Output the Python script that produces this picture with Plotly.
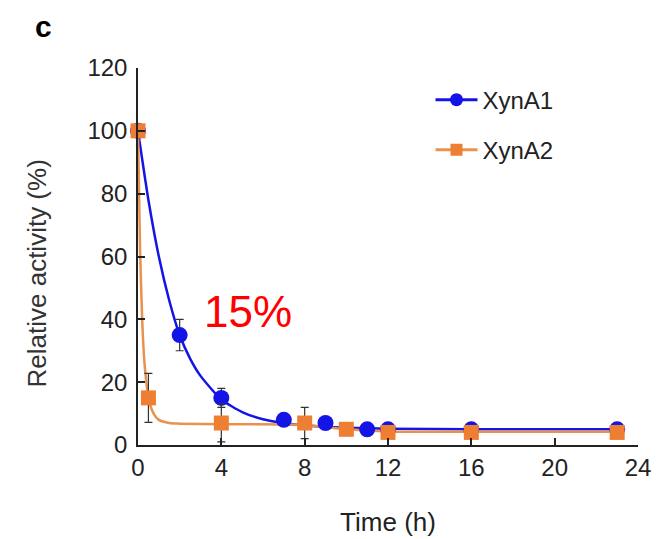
import plotly.graph_objects as go

# Measured data points
t_a1 = [0, 2, 4, 7, 9, 11, 12, 16, 23]
y_a1 = [100, 35, 15, 8, 7, 5, 5, 5, 5]
e_a1 = [0, 5, 3, 1.5, 1, 0.5, 0.5, 0.5, 0.5]

t_a2 = [0, 0.5, 4, 8, 10, 12, 16, 23]
y_a2 = [100, 15, 7, 7, 5, 4, 4, 4]
e_a2 = [0, 7.8, 6, 5, 1, 0.5, 0.5, 0.5]

# Fitted curves
fit_t_a1 = [0, 0.5, 1, 1.5, 2, 2.5, 3, 4, 5, 6, 7, 8, 10, 12, 16, 23]
fit_y_a1 = [100, 78, 60, 46, 35, 27.5, 22, 14.5, 10.5, 8.2, 7, 6.2, 5.5, 5.2, 5, 5]

fit_t_a2 = [0, 0.1, 0.2, 0.3, 0.4, 0.5, 0.75, 1, 1.5, 2, 4, 8, 10, 12, 16, 23]
fit_y_a2 = [100, 62, 40, 27, 20, 15, 10, 8, 7, 6.8, 6.6, 6.4, 5, 4.3, 4.2, 4.2]

BLUE = "#1414e6"
ORANGE = "#ee7e32"
ORANGE_LINE = "#e9924e"
FONT = "Liberation Sans, Arial, sans-serif"

fig = go.Figure()

fig.add_trace(go.Scatter(x=fit_t_a1, y=fit_y_a1, mode="lines", line=dict(color=BLUE, width=2.5, shape="spline", smoothing=0.6),
                         showlegend=False, hoverinfo="skip", cliponaxis=False))
fig.add_trace(go.Scatter(x=fit_t_a2, y=fit_y_a2, mode="lines", line=dict(color=ORANGE_LINE, width=2.5, shape="spline", smoothing=0.6),
                         showlegend=False, hoverinfo="skip", cliponaxis=False))

fig.add_trace(go.Scatter(x=t_a1, y=y_a1, mode="markers", showlegend=False, cliponaxis=False,
                         marker=dict(symbol="circle", size=16, color=BLUE),
                         error_y=dict(type="data", array=e_a1, color="#333333", thickness=1.2, width=4)))
fig.add_trace(go.Scatter(x=t_a2, y=y_a2, mode="markers", showlegend=False, cliponaxis=False,
                         marker=dict(symbol="square", size=15, color=ORANGE),
                         error_y=dict(type="data", array=e_a2, color="#333333", thickness=1.2, width=4)))

# Legend entries
fig.add_trace(go.Scatter(x=[None], y=[None], mode="lines+markers", name="XynA1",
                         line=dict(color=BLUE, width=3), marker=dict(symbol="circle", size=13, color=BLUE),
                         legend="legend"))
fig.add_trace(go.Scatter(x=[None], y=[None], mode="lines+markers", name="XynA2",
                         line=dict(color=ORANGE_LINE, width=3), marker=dict(symbol="square", size=12, color=ORANGE),
                         legend="legend2"))

axis_font = dict(family=FONT, size=24, color="#222222")
leg_font = dict(family=FONT, size=24, color="#222222")

fig.update_layout(
    width=658, height=539,
    margin=dict(l=138, r=20, t=68, b=94),
    paper_bgcolor="white", plot_bgcolor="white",
    font=axis_font,
    legend=dict(x=0.585, y=0.915, xanchor="left", yanchor="middle", bgcolor="rgba(0,0,0,0)", font=leg_font, itemwidth=42),
    legend2=dict(x=0.585, y=0.782, xanchor="left", yanchor="middle", bgcolor="rgba(0,0,0,0)", font=leg_font, itemwidth=42),
    xaxis=dict(range=[0, 24], tickvals=[0, 4, 8, 12, 16, 20, 24], ticks="inside", ticklen=7, tickwidth=1.5,
               tickcolor="#222222", showline=True, linecolor="#222222", linewidth=1.5, showgrid=False, zeroline=False,
               automargin=False,
               tickfont=axis_font, title=dict(text="Time (h)", font=dict(family=FONT, size=26, color="#222222"), standoff=33)),
    yaxis=dict(range=[0, 120], tickvals=[0, 20, 40, 60, 80, 100, 120], ticks="inside", ticklen=7, tickwidth=1.5,
               tickcolor="#222222", showline=True, linecolor="#222222", linewidth=1.5, showgrid=False, zeroline=False,
               automargin=False, tickfont=axis_font, ticklabelstandoff=4),
)

fig.add_annotation(text="Relative activity (%)", xref="paper", yref="paper", x=-0.202, y=0.455, textangle=-90,
                   xanchor="center", yanchor="middle", showarrow=False,
                   font=dict(family=FONT, size=26, color="#333333"))
fig.add_annotation(text="<b>c</b>", xref="paper", yref="paper", x=-0.19, y=1.11, xanchor="center", yanchor="middle",
                   showarrow=False, font=dict(family=FONT, size=30, color="black"))
fig.add_annotation(text="15%", xref="x", yref="y", x=5.3, y=42.5, xanchor="center", yanchor="middle",
                   showarrow=False, font=dict(family=FONT, size=44, color="#ff0000"))

fig.write_html("out.html")
